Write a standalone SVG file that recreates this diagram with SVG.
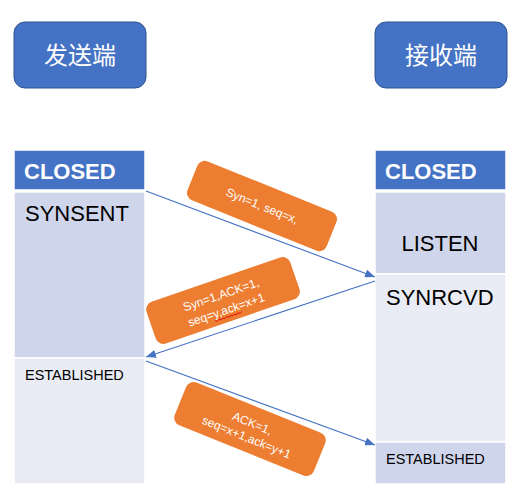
<svg xmlns="http://www.w3.org/2000/svg" width="517" height="496" viewBox="0 0 517 496">
<style>
.role{fill:#4472C4;stroke:#2F528F;stroke-width:1}
.roletxt{font-family:"Noto Sans CJK SC","Noto Sans",sans-serif;font-size:24px;fill:#fff;text-anchor:middle}
.hdr{fill:#4472C4;stroke:#fff;stroke-width:1.5}
.dark{fill:#CFD5EA;stroke:#fff;stroke-width:1.5}
.light{fill:#E9EBF5;stroke:#fff;stroke-width:1.5}
.hdrtxt{font-family:"Liberation Sans",Arial,sans-serif;font-weight:bold;font-size:22px;fill:#fff}
.st{font-family:"Liberation Sans",Arial,sans-serif;font-size:22px;fill:#000}
.sm{font-family:"Liberation Sans",Arial,sans-serif;font-size:14.5px;fill:#000}
.conn{stroke:#4472C4;stroke-width:1.1;fill:none;marker-end:url(#arr)}
.lbl{fill:#ED7D31}
.lbltxt{font-family:"Liberation Sans",Arial,sans-serif;font-size:12px;fill:#fff;text-anchor:middle}
</style>
<defs>
<marker id="arr" markerUnits="userSpaceOnUse" markerWidth="10" markerHeight="8" refX="10" refY="4" orient="auto">
<path d="M0,0 L10,4 L0,8 z" fill="#4472C4"/>
</marker>
</defs>
<rect width="517" height="496" fill="#fff"/>
<g id="sender">
<rect class="role" x="14" y="22" width="132" height="66" rx="11"/>
<text class="roletxt" x="80" y="64">发送端</text>
</g>
<g id="receiver">
<rect class="role" x="375" y="22" width="132" height="66" rx="11"/>
<text class="roletxt" x="441" y="64">接收端</text>
</g>
<g id="s-closed">
<rect class="hdr" x="14" y="150" width="131" height="40"/>
<text class="hdrtxt" x="24" y="179">CLOSED</text>
</g>
<g id="s-synsent">
<rect class="dark" x="14" y="192" width="131" height="166"/>
<text class="st" x="25" y="221">SYNSENT</text>
</g>
<g id="s-established">
<rect class="light" x="14" y="358" width="131" height="126"/>
<text class="sm" x="25" y="380">ESTABLISHED</text>
</g>
<g id="r-closed">
<rect class="hdr" x="375" y="150" width="131" height="40"/>
<text class="hdrtxt" x="385" y="179">CLOSED</text>
</g>
<g id="r-listen">
<rect class="dark" x="375" y="192" width="131" height="82"/>
<text class="st" x="440" y="251" text-anchor="middle">LISTEN</text>
</g>
<g id="r-synrcvd">
<rect class="light" x="375" y="274" width="131" height="168"/>
<text class="st" x="386" y="305">SYNRCVD</text>
</g>
<g id="r-established">
<rect class="dark" x="375" y="442" width="131" height="42"/>
<text class="sm" x="386" y="464">ESTABLISHED</text>
</g>
<g id="connectors">
<path class="conn" d="M146,191 L375,277"/>
<path class="conn" d="M375,281 L146,357"/>
<path class="conn" d="M146,361 L375,445"/>
</g>
<g id="label-syn" transform="translate(262,206) rotate(22)">
<rect class="lbl" x="-75" y="-21" width="150" height="42" rx="8"/>
<text class="lbltxt" x="0" y="4">Syn=1, seq=x,</text>
</g>
<g id="label-synack" transform="translate(223,300.5) rotate(-19)">
<rect class="lbl" x="-76" y="-22" width="152" height="44" rx="8"/>
<text class="lbltxt" x="0" y="-2">Syn=1,ACK=1,</text>
<text class="lbltxt" x="0" y="14">seq=y,ack=x+1</text>
<path d="M-14,16.5 l2,1.3 l2,-1.3 l2,1.3 l2,-1.3 l2,1.3 l2,-1.3 l2,1.3 l2,-1.3 l2,1.3 l2,-1.3 l2,1.3 l2,-1.3 l2,1.3 l2,-1.3" fill="none" stroke="#E00000" stroke-width="0.8"/>
</g>
<g id="label-ack" transform="translate(250,429) rotate(22)">
<rect class="lbl" x="-75" y="-23" width="150" height="46" rx="8"/>
<text class="lbltxt" x="0" y="-2">ACK=1,</text>
<text class="lbltxt" x="0" y="13">seq=x+1,ack=y+1</text>
</g>
</svg>
